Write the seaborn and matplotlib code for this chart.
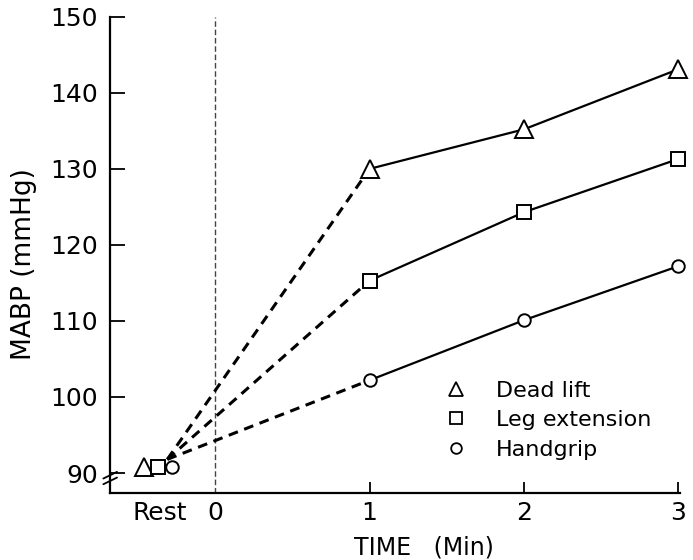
import matplotlib
matplotlib.use("Agg")
import matplotlib.pyplot as plt
import pandas as pd
import seaborn as sns
from matplotlib.lines import Line2D

# data
exercises = ["Dead lift", "Leg extension", "Handgrip"]
markers = ["^", "s", "o"]
minutes = [1, 2, 3]
dead_lift = [130.0, 135.2, 143.1]
leg_extension = [115.3, 124.3, 131.3]
handgrip = [102.2, 110.1, 117.2]
rest_values = [90.8, 90.8, 90.8]
rest_x = [-0.46, -0.37, -0.28]
rest_origin = (-0.31, 91.8)

sns.set_theme(style="ticks")
plt.rcParams["font.family"] = ["DejaVu Sans"]
for k in ["text.color", "axes.labelcolor", "xtick.color", "ytick.color"]:
    plt.rcParams[k] = "black"

series = {"Dead lift": dead_lift, "Leg extension": leg_extension, "Handgrip": handgrip}
df = pd.DataFrame([
    {"exercise": name, "time": t, "mabp": v}
    for name, vals in series.items() for t, v in zip(minutes, vals)
])
rest_df = pd.DataFrame({"exercise": exercises, "time": rest_x, "mabp": rest_values})

fig = plt.figure(figsize=(6.93, 5.6), dpi=100)
ax = fig.add_axes([0.159, 0.12, 0.822, 0.85])

# dashed run-up from rest to minute 1
for name in exercises:
    ax.plot([rest_origin[0], 1], [rest_origin[1], series[name][0]],
            color="black", lw=2.2, ls=(0, (3.2, 2.2)), zorder=2)

sizes = {"^": 12.5, "s": 10.5, "o": 9}
for name, m in zip(exercises, markers):
    sub = df[df["exercise"] == name]
    sns.lineplot(data=sub, x="time", y="mabp", ax=ax, color="black", lw=1.6,
                 marker=m, markersize=sizes[m], markerfacecolor="white",
                 markeredgecolor="black", markeredgewidth=1.4, zorder=3, clip_on=False)
    r = rest_df[rest_df["exercise"] == name]
    ax.plot(r["time"], r["mabp"], ls="none", marker=m, markersize=sizes[m],
            mfc="white", mec="black", mew=1.4, zorder=4, clip_on=False)

ax.axvline(0, color="#444444", lw=1.0, ls=(0, (4, 2)), zorder=1)

ax.set_xlim(-0.68, 3.01)
ax.set_ylim(87.4, 150)
ax.set_yticks(range(90, 151, 10))
ax.set_xticks(minutes)
ax.set_xticks([-0.36, 0], minor=True)
ax.set_xticklabels(["1", "2", "3"])
ax.set_xticklabels(["Rest", "0"], minor=True)
ax.tick_params(axis="y", direction="in", length=11, width=1.3, labelsize=18, pad=9)
ax.tick_params(axis="x", which="major", direction="in", length=8, width=1.3, labelsize=18, pad=6)
ax.tick_params(axis="x", which="minor", length=0, labelsize=18, pad=6)

sns.despine(ax=ax)
for s in ["left", "bottom"]:
    ax.spines[s].set_linewidth(1.6)
    ax.spines[s].set_color("black")

# axis break marks
for dy in (0.0, 0.012):
    ax.plot([-0.012, 0.012], [0.018 + dy, 0.032 + dy], transform=ax.transAxes,
            color="black", lw=1.3, clip_on=False)

ax.set_ylabel("MABP (mmHg)", fontsize=19)
ax.yaxis.set_label_coords(-0.128, 0.48)
ax.set_xlabel("TIME   (Min)", fontsize=17)
ax.xaxis.set_label_coords(0.55, -0.09)

handles = [Line2D([], [], ls="none", marker=m, markersize=sizes[m] * 0.85, mfc="white",
                  mec="black", mew=1.3) for m in markers]
ax.legend(handles, exercises, loc="upper left", bbox_to_anchor=(0.58, 0.235),
          frameon=False, fontsize=16, handlelength=1.4, handletextpad=1.1,
          labelspacing=0.42, borderaxespad=0, borderpad=0)

fig.savefig("out.png", dpi=100)
